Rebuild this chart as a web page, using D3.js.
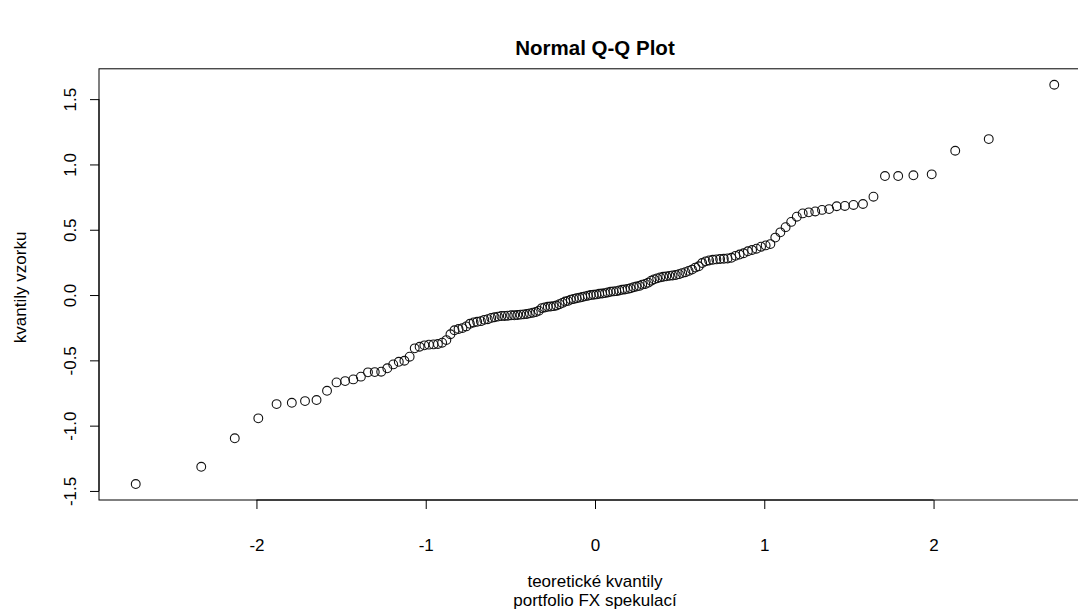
<!DOCTYPE html>
<html>
<head>
<meta charset="utf-8">
<script src="https://cdn.jsdelivr.net/npm/d3@7"></script>
<style>
  html, body { margin: 0; padding: 0; background: #fff; }
  svg { display: block; font-family: "Liberation Sans", Arial, Helvetica, sans-serif; }
</style>
</head>
<body>
<svg id="chart" width="1078" height="614"></svg>
<script>
// ========= Data
// theoretical normal quantiles, one per sample point (n = 150)
const theoretical = [
  -2.713, -2.326, -2.128, -1.989, -1.881, -1.791, -1.713, -1.645, -1.583, -1.527,
  -1.476, -1.428, -1.383, -1.341, -1.301, -1.263, -1.227, -1.192, -1.159, -1.126,
  -1.095, -1.065, -1.036, -1.008, -0.981, -0.954, -0.928, -0.903, -0.878, -0.854,
  -0.830, -0.806, -0.783, -0.761, -0.739, -0.717, -0.696, -0.674, -0.654, -0.633,
  -0.613, -0.593, -0.573, -0.553, -0.534, -0.515, -0.496, -0.477, -0.458, -0.440,
  -0.421, -0.403, -0.385, -0.367, -0.349, -0.332, -0.314, -0.297, -0.279, -0.262,
  -0.245, -0.228, -0.210, -0.193, -0.176, -0.160, -0.143, -0.126, -0.109, -0.092,
  -0.075, -0.059, -0.042, -0.025, -0.008,
  0.008, 0.025, 0.042, 0.059, 0.075, 0.092, 0.109, 0.126, 0.143, 0.160,
  0.176, 0.193, 0.210, 0.228, 0.245, 0.262, 0.279, 0.297, 0.314, 0.332,
  0.349, 0.367, 0.385, 0.403, 0.421, 0.440, 0.458, 0.477, 0.496, 0.515,
  0.534, 0.553, 0.573, 0.593, 0.613, 0.633, 0.654, 0.674, 0.696, 0.717,
  0.739, 0.761, 0.783, 0.806, 0.830, 0.854, 0.878, 0.903, 0.928, 0.954,
  0.981, 1.008, 1.036, 1.065, 1.095, 1.126, 1.159, 1.192, 1.227, 1.263,
  1.301, 1.341, 1.383, 1.428, 1.476, 1.527, 1.583, 1.645, 1.713, 1.791,
  1.881, 1.989, 2.128, 2.326, 2.713
];

// sorted sample values (portfolio FX returns)
const sample = [
  -1.447, -1.315, -1.097, -0.944, -0.835, -0.825, -0.812, -0.804, -0.733, -0.669,
  -0.659, -0.646, -0.625, -0.592, -0.590, -0.587, -0.561, -0.531, -0.511, -0.503,
  -0.472, -0.408, -0.396, -0.385, -0.380, -0.378, -0.375, -0.365, -0.345, -0.300,
  -0.270, -0.260, -0.253, -0.240, -0.220, -0.210, -0.205, -0.200, -0.190, -0.185,
  -0.175, -0.170, -0.165, -0.160, -0.160, -0.158, -0.155, -0.155, -0.153, -0.150,
  -0.148, -0.145, -0.140, -0.135, -0.130, -0.120, -0.100, -0.095, -0.090, -0.088,
  -0.085, -0.080, -0.070, -0.060, -0.050, -0.045, -0.035, -0.030, -0.025, -0.020,
  -0.015, -0.010, -0.005, 0.000, 0.002, 0.005, 0.010, 0.012, 0.015, 0.020,
  0.025, 0.028, 0.030, 0.035, 0.040, 0.043, 0.047, 0.052, 0.060, 0.065,
  0.070, 0.080, 0.085, 0.095, 0.110, 0.120, 0.128, 0.135, 0.140, 0.143,
  0.147, 0.150, 0.153, 0.160, 0.168, 0.175, 0.185, 0.195, 0.210, 0.220,
  0.245, 0.258, 0.265, 0.270, 0.273, 0.276, 0.278, 0.280, 0.285, 0.300,
  0.310, 0.320, 0.335, 0.345, 0.355, 0.370, 0.380, 0.390, 0.440, 0.480,
  0.520, 0.560, 0.600, 0.625, 0.633, 0.640, 0.652, 0.658, 0.680, 0.682,
  0.690, 0.697, 0.753, 0.911, 0.911, 0.917, 0.924, 1.105, 1.194, 1.610
];

const xTicks = [-2, -1, 0, 1, 2];
const xTickLabels = ["-2", "-1", "0", "1", "2"];
const yTicks = [-1.5, -1.0, -0.5, 0.0, 0.5, 1.0, 1.5];
const yTickLabels = ["-1.5", "-1.0", "-0.5", "0.0", "0.5", "1.0", "1.5"];

const mainTitle = "Normal Q-Q Plot";
const xTitleLines = ["teoretické kvantily", "portfolio FX spekulací"];
const yTitle = "kvantily vzorku";

// ========= Layout (R base graphics look)
const svg = d3.select("#chart");
const plot = { left: 99, right: 1091, top: 68.8, bottom: 500 };
const fontAxis = 17;

// R extends the data range by 4% on each side
const pad = ext => {
    const d = (ext[1] - ext[0]) * 0.04;
    return [ext[0] - d, ext[1] + d];
};

const x = d3.scaleLinear().domain(pad(d3.extent(theoretical))).range([plot.left, plot.right]);
const y = d3.scaleLinear().domain(pad(d3.extent(sample))).range([plot.bottom, plot.top]);

const points = theoretical.map((t, i) => ({ t, s: sample[i] }));

// ========= Box
svg.append("rect")
    .attr("x", plot.left)
    .attr("y", plot.top)
    .attr("width", plot.right - plot.left)
    .attr("height", plot.bottom - plot.top)
    .attr("fill", "none")
    .attr("stroke", "#000")
    .attr("stroke-width", 1);

// ========= Axes
const xAxis = svg.append("g")
    .attr("transform", `translate(0,${plot.bottom})`)
    .call(d3.axisBottom(x).tickValues(xTicks).tickFormat((d, i) => xTickLabels[i]).tickSize(9).tickPadding(30));
xAxis.select(".domain").remove();
xAxis.append("line")
    .attr("x1", x(xTicks[0])).attr("x2", x(xTicks[xTicks.length - 1]))
    .attr("stroke", "#000");
xAxis.selectAll(".tick line").attr("stroke", "#000");
xAxis.selectAll(".tick text")
    .attr("fill", "#000")
    .attr("font-size", fontAxis)
    .attr("font-family", "Liberation Sans, Arial, sans-serif");

const yAxis = svg.append("g")
    .attr("transform", `translate(${plot.left},0)`)
    .call(d3.axisLeft(y).tickValues(yTicks).tickFormat((d, i) => yTickLabels[i]).tickSize(9));
yAxis.select(".domain").remove();
yAxis.append("line")
    .attr("y1", y(yTicks[0])).attr("y2", y(yTicks[yTicks.length - 1]))
    .attr("stroke", "#000");
yAxis.selectAll(".tick line").attr("stroke", "#000");
yAxis.selectAll(".tick text")
    .attr("fill", "#000")
    .attr("font-size", fontAxis)
    .attr("font-family", "Liberation Sans, Arial, sans-serif")
    .attr("text-anchor", "middle")
    .attr("dy", null)
    .attr("x", 0)
    .attr("transform", "translate(-29,0) rotate(-90)")
    .attr("dominant-baseline", "central");

// ========= Points
svg.append("g")
    .selectAll("circle")
    .data(points)
    .join("circle")
    .attr("cx", d => x(d.t))
    .attr("cy", d => y(d.s))
    .attr("r", 4.4)
    .attr("fill", "none")
    .attr("stroke", "#111")
    .attr("stroke-width", 1.1);

// ========= Titles
const cx = (plot.left + plot.right) / 2;

svg.append("text")
    .attr("x", cx)
    .attr("y", 47)
    .attr("text-anchor", "middle")
    .attr("dominant-baseline", "central")
    .attr("font-size", 20.5)
    .attr("font-weight", "bold")
    .text(mainTitle);

svg.append("g")
    .selectAll("text")
    .data(xTitleLines)
    .join("text")
    .attr("x", cx)
    .attr("y", (d, i) => 581 + i * 19.5)
    .attr("text-anchor", "middle")
    .attr("dominant-baseline", "central")
    .attr("font-size", fontAxis)
    .text(d => d);

svg.append("text")
    .attr("transform", `translate(20,${(plot.top + plot.bottom) / 2 + 3}) rotate(-90)`)
    .attr("text-anchor", "middle")
    .attr("dominant-baseline", "central")
    .attr("font-size", fontAxis)
    .text(yTitle);
</script>
</body>
</html>
